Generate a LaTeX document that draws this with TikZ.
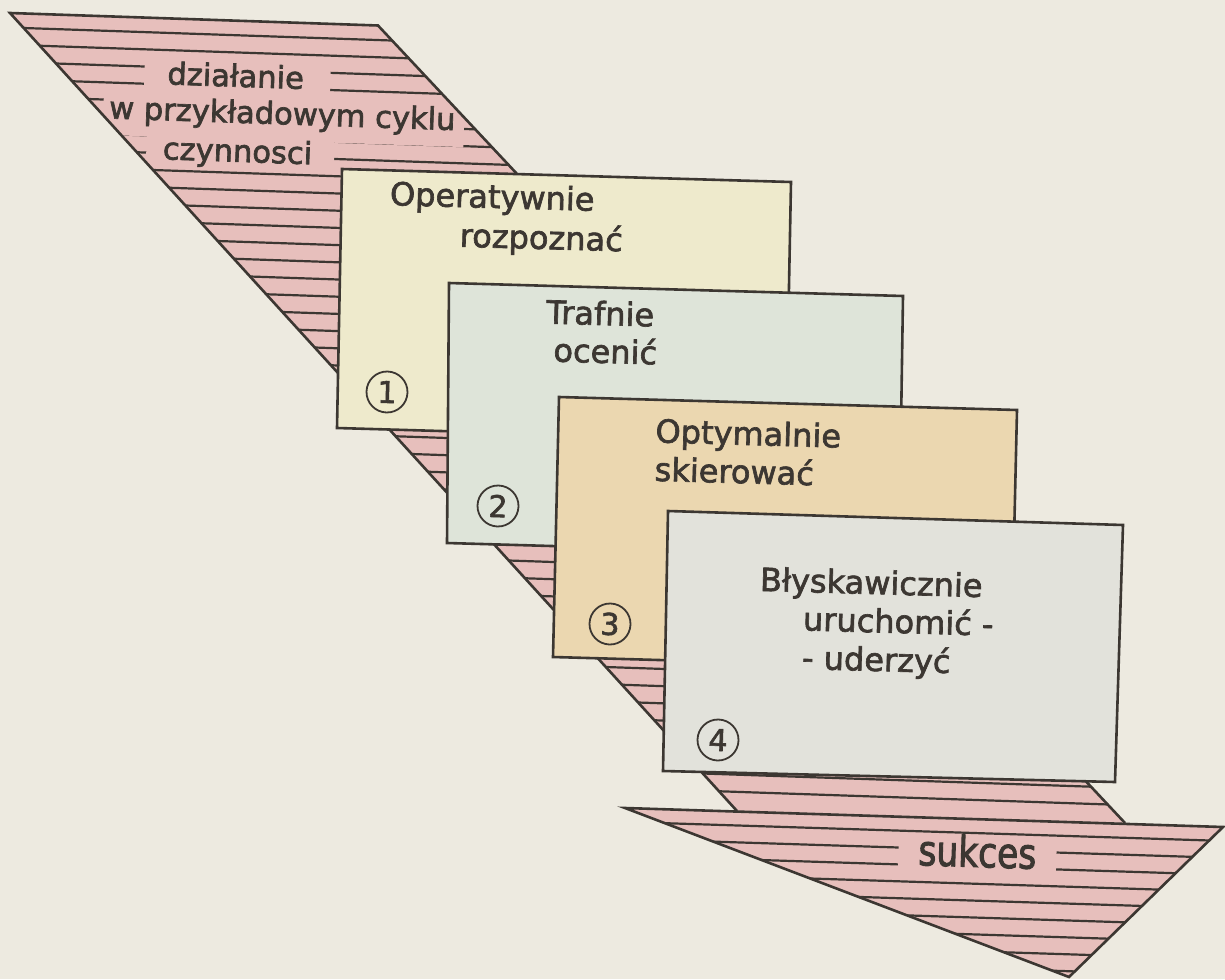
\documentclass[tikz,border=0pt]{standalone}
\usepackage{fontspec}
\setmainfont{DejaVu Sans}
\newfontfamily\bandfont{DejaVu Sans}[FakeBold=2.2]
\newfontfamily\sukfont{DejaVu Sans}[FakeStretch=0.82,FakeBold=2.2]
\newfontfamily\boxfont{DejaVu Sans}[FakeBold=2]
\definecolor{paper}{RGB}{237,234,224}
\definecolor{inkc}{RGB}{60,55,50}
\definecolor{pinkc}{RGB}{231,191,188}
\definecolor{boxa}{RGB}{238,234,204}
\definecolor{boxb}{RGB}{222,228,217}
\definecolor{boxc}{RGB}{235,215,176}
\definecolor{boxd}{RGB}{226,226,219}
\begin{document}
\begin{tikzpicture}[x=1pt,y=-1pt,
  outline/.style={draw=inkc,line width=2.6pt,line join=miter},
  hatch/.style={draw=inkc,line width=2.2pt},
  boxtext/.style={font=\boxfont\fontsize{32}{36}\selectfont,text=inkc,anchor=base,rotate=-1.6,inner sep=0pt,text height=23pt,text depth=3pt},
  bandtext/.style={font=\bandfont\fontsize{30.5}{36}\selectfont,text=inkc,rotate=-1.95,inner sep=0pt},
  mask/.style={fill=pinkc},
  numc/.style={circle,draw=inkc,line width=1.8pt,minimum size=41pt,inner sep=0pt,text=inkc,font=\boxfont\fontsize{30}{30}\selectfont,rotate=-1.6}
]
\useasboundingbox (0,0) rectangle (1225,979);
\fill[paper] (0,0) rectangle (1225,979);

% ---- diagonal band ----
\coordinate (bTL) at (10,13);
\coordinate (bTR) at (378,25.5);
\coordinate (bBR) at (1125,823);
\coordinate (bBL) at (737,811);
\begin{scope}
  \clip (bTL) -- (bTR) -- (bBR) -- (bBL) -- cycle;
  \fill[pinkc] (0,0) rectangle (1225,979);
  \foreach \k in {1,...,44} \draw[hatch] (0,{10+17.2*\k}) -- (1225,{10+17.2*\k+41.65});
  \fill[mask,rotate around={-1.95:(236,89)}] (144,59) rectangle (330,108);
  \fill[mask,rotate around={-1.95:(284,124)}] (103,95) rectangle (464,141);
  \fill[mask,rotate around={-1.95:(238,161)}] (146,138) rectangle (334,168);
\end{scope}
\node[bandtext,align=left,anchor=west] (t1) at (109,111.5)
  {\hspace*{57pt}działanie\\w przykładowym cyklu\\[3pt]\hspace*{55pt}czynnosci};
\draw[outline] (bBL) -- (bTL) -- (bTR) -- (bBR);

% ---- boxes ----
\filldraw[outline,fill=boxa] (342,169) -- (791,182) -- (786,441) -- (337,428) -- cycle;
\node[boxtext] (o1) at (492,208) {Operatywnie};
\node[boxtext] (o2) at (541,249) {rozpoznać};
\node[numc] (n1) at (387,392) {1};

\filldraw[outline,fill=boxb] (449,283) -- (903,296) -- (899,556) -- (447,543) -- cycle;
\node[boxtext] (r1) at (600,325) {Trafnie};
\node[boxtext] (r2) at (605,363) {ocenić};
\node[numc] (n2) at (498,506) {2};

\filldraw[outline,fill=boxc] (559,397) -- (1017,410) -- (1011,670) -- (553,657) -- cycle;
\node[boxtext] (p1) at (748,445) {Optymalnie};
\node[boxtext] (p2) at (734,483) {skierować};
\node[numc] (n3) at (610,624) {3};

\filldraw[outline,fill=boxd] (668,511) -- (1123,525) -- (1115,782) -- (663,771) -- cycle;
\node[boxtext] (q1) at (871,594) {Błyskawicznie};
\node[boxtext] (q2) at (898,633) {uruchomić -};
\node[boxtext] (q3) at (876,671) {- uderzyć};
\node[numc] (n4) at (718,740) {4};

% ---- success arrow ----
\coordinate (sL) at (625,808);
\coordinate (sR) at (1223,827);
\coordinate (sT) at (1069,977);
\begin{scope}
  \clip (sL) -- (sR) -- (sT) -- cycle;
  \fill[pinkc] (0,0) rectangle (1225,979);
  \foreach \k in {1,...,9} \draw[hatch] (600,{805-0.795+16.9*\k}) -- (1225,{805+19.08+16.9*\k});
  \fill[mask,rotate around={-1.82:(977,867)}] (898,839) rectangle (1056,874);
\end{scope}
\node[bandtext,font=\sukfont\fontsize{42}{44}\selectfont,rotate=0.13,anchor=base,text height=29pt,text depth=1pt] (su) at (977,867) {sukces};
\draw[outline] (sL) -- (sR) -- (sT) -- cycle;
\end{tikzpicture}
\end{document}
